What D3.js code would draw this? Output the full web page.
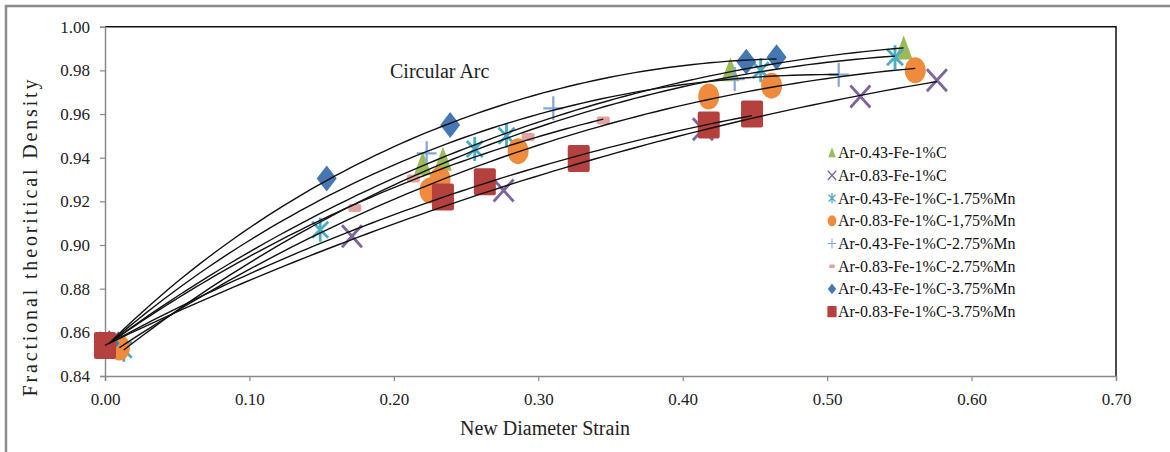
<!DOCTYPE html>
<html>
<head>
<meta charset="utf-8">
<script src="https://cdn.jsdelivr.net/npm/d3@7"></script>
<style>
  body { margin: 0; background: #fff; }
  svg { display: block; font-family: "Liberation Serif", "Times New Roman", serif; }
</style>
</head>
<body>
<div id="chart"></div>
<script>
// data (x = new diameter strain, y = fractional theoretical density)
const seriesNames = [
  "Ar-0.43-Fe-1%C",
  "Ar-0.83-Fe-1%C",
  "Ar-0.43-Fe-1%C-1.75%Mn",
  "Ar-0.83-Fe-1%C-1,75%Mn",
  "Ar-0.43-Fe-1%C-2.75%Mn",
  "Ar-0.83-Fe-1%C-2.75%Mn",
  "Ar-0.43-Fe-1%C-3.75%Mn",
  "Ar-0.83-Fe-1%C-3.75%Mn"
];
const strainA043 = [0.003, 0.220, 0.234, 0.433, 0.553];
const densA043   = [0.855, 0.937, 0.939, 0.980, 0.990];
const strainA083 = [0.003, 0.171, 0.276, 0.414, 0.523, 0.576];
const densA083   = [0.855, 0.904, 0.925, 0.953, 0.968, 0.9755];
const strainA043Mn175 = [0.013, 0.149, 0.256, 0.278, 0.454, 0.547];
const densA043Mn175   = [0.852, 0.907, 0.944, 0.950, 0.980, 0.986];
const strainA083Mn175 = [0.010, 0.225, 0.232, 0.286, 0.418, 0.4615, 0.561];
const densA083Mn175   = [0.853, 0.925, 0.930, 0.943, 0.968, 0.973, 0.980];
const strainA043Mn275 = [0.003, 0.2227, 0.3104, 0.436, 0.508];
const densA043Mn275   = [0.855, 0.942, 0.9626, 0.976, 0.978];
const strainA083Mn275 = [0.003, 0.173, 0.2135, 0.293, 0.345];
const densA083Mn275   = [0.855, 0.917, 0.9305, 0.9495, 0.957];
const strainA043Mn375 = [0.003, 0.1535, 0.239, 0.444, 0.465];
const densA043Mn375   = [0.855, 0.9305, 0.955, 0.984, 0.986];
const strainA083Mn375 = [0.000, 0.234, 0.263, 0.328, 0.418, 0.448];
const densA083Mn375   = [0.854, 0.922, 0.929, 0.9396, 0.955, 0.960];

const xTicks = [0.00, 0.10, 0.20, 0.30, 0.40, 0.50, 0.60, 0.70];
const yTicks = [0.84, 0.86, 0.88, 0.90, 0.92, 0.94, 0.96, 0.98, 1.00];

const series = [
  {name: seriesNames[0], xs: strainA043, ys: densA043, shape: "triangle", color: "#9BBB59"},
  {name: seriesNames[1], xs: strainA083, ys: densA083, shape: "x", color: "#8064A2"},
  {name: seriesNames[2], xs: strainA043Mn175, ys: densA043Mn175, shape: "asterisk", color: "#4BACC6"},
  {name: seriesNames[3], xs: strainA083Mn175, ys: densA083Mn175, shape: "circle", color: "#F08A3C"},
  {name: seriesNames[4], xs: strainA043Mn275, ys: densA043Mn275, shape: "plus", color: "#84A8DA"},
  {name: seriesNames[5], xs: strainA083Mn275, ys: densA083Mn275, shape: "dash", color: "#E3A3A1"},
  {name: seriesNames[6], xs: strainA043Mn375, ys: densA043Mn375, shape: "diamond", color: "#4677B5"},
  {name: seriesNames[7], xs: strainA083Mn375, ys: densA083Mn375, shape: "square", color: "#B5413F"}
];

const width = 1170, height = 452;
const x = d3.scaleLinear().domain([0, 0.7]).range([105, 1116]);
const y = d3.scaleLinear().domain([0.84, 1.00]).range([376, 26.7]);

const svg = d3.select("#chart").append("svg")
  .attr("width", width).attr("height", height);

// outer frame (top + left edges visible)
svg.append("path")
  .attr("d", "M6,452 V6 H1170")
  .attr("fill", "none").attr("stroke", "#8c8c8c").attr("stroke-width", 2.5);

// plot frame: black top/right, grey axes
svg.append("path")
  .attr("d", `M${x(0)},${y(1)} H${x(0.7)} V${y(0.84)}`)
  .attr("fill", "none").attr("stroke", "#111").attr("stroke-width", 1.5);

const yAxis = svg.append("g")
  .attr("transform", `translate(${x(0)},0)`)
  .call(d3.axisLeft(y).tickValues(yTicks).tickFormat(d3.format(".2f")).tickSize(5).tickPadding(10));
const xAxis = svg.append("g")
  .attr("transform", `translate(0,${y(0.84)})`)
  .call(d3.axisBottom(x).tickValues(xTicks).tickFormat(d3.format(".2f")).tickSize(5).tickPadding(12));

[xAxis, yAxis].forEach(g => {
  g.select(".domain").attr("stroke", "#8a8a8a").attr("stroke-width", 1.5);
  g.selectAll(".tick line").attr("stroke", "#8a8a8a").attr("stroke-width", 1.2);
  g.selectAll(".tick text")
    .attr("fill", "#222")
    .style("font-family", "'Liberation Serif', serif")
    .style("font-size", "17px");
});

// axis titles
svg.append("text")
  .attr("transform", "translate(37,238) rotate(-90)")
  .attr("text-anchor", "middle")
  .attr("textLength", 317).attr("lengthAdjust", "spacing")
  .attr("fill", "#222").style("font-size", "20px")
  .text("Fractional theoritical Density");
svg.append("text")
  .attr("x", 545).attr("y", 435)
  .attr("text-anchor", "middle")
  .attr("fill", "#222").style("font-size", "20px")
  .text("New Diameter Strain");

svg.append("text")
  .attr("x", 390).attr("y", 78)
  .attr("fill", "#222").style("font-size", "20px")
  .text("Circular Arc");

// marker painter; k scales the shape, sw is the stroke width for line markers
function marker(g, shape, color, k, sw) {
  if (shape === "triangle") {
    g.append("path").attr("d", `M0,${-13*k} L${9*k},${11*k} L${-9*k},${11*k} Z`).attr("fill", color);
  } else if (shape === "x") {
    g.append("path").attr("d", `M${-10*k},${-11*k} L${10*k},${11*k} M${-10*k},${11*k} L${10*k},${-11*k}`)
      .attr("stroke", color).attr("stroke-width", sw);
  } else if (shape === "asterisk") {
    g.append("path").attr("d", `M0,${-12*k} V${12*k} M${-8*k},${-8*k} L${8*k},${8*k} M${-8*k},${8*k} L${8*k},${-8*k}`)
      .attr("stroke", color).attr("stroke-width", sw);
  } else if (shape === "circle") {
    g.append("ellipse").attr("rx", 10.5*k).attr("ry", 13*k).attr("fill", color);
  } else if (shape === "plus") {
    g.append("path").attr("d", `M${-10*k},0 H${10*k} M0,${-12*k} V${12*k}`)
      .attr("stroke", color).attr("stroke-width", sw*0.8);
  } else if (shape === "dash") {
    g.append("rect").attr("x", -6.5*k).attr("y", -4*k).attr("width", 13*k).attr("height", 8*k)
      .attr("rx", 2*k).attr("fill", color);
  } else if (shape === "diamond") {
    g.append("path").attr("d", `M0,${-13*k} L${10*k},0 L0,${13*k} L${-10*k},0 Z`).attr("fill", color);
  } else if (shape === "square") {
    g.append("rect").attr("x", -11*k).attr("y", -13.5*k).attr("width", 22*k).attr("height", 27*k)
      .attr("rx", 2*k).attr("fill", color);
  }
}

// markers
const markG = svg.append("g");
series.forEach(s => {
  s.xs.forEach((v, i) => {
    const g = markG.append("g").attr("transform", `translate(${x(v)},${y(s.ys[i])})`);
    marker(g, s.shape, s.color, 1, 2.8);
  });
});

// circular arc fit (weighted Kasa fit in screen space, first point held strongly)
function fitArc(px, py) {
  const mx = d3.mean(px), my = d3.mean(py);
  const S = [[0,0,0],[0,0,0],[0,0,0]], R = [0,0,0];
  px.forEach((xv, i) => {
    const u = xv - mx, v = py[i] - my, w = i === 0 ? 25 : 1;
    const a = [u, v, 1], b = -(u*u + v*v);
    for (let j = 0; j < 3; j++) {
      R[j] += w * a[j] * b;
      for (let k = 0; k < 3; k++) S[j][k] += w * a[j] * a[k];
    }
  });
  // gaussian elimination
  const M = S.map((row, j) => row.concat(R[j]));
  for (let c = 0; c < 3; c++) {
    let p = c;
    for (let r = c + 1; r < 3; r++) if (Math.abs(M[r][c]) > Math.abs(M[p][c])) p = r;
    [M[c], M[p]] = [M[p], M[c]];
    for (let r = 0; r < 3; r++) {
      if (r === c) continue;
      const f = M[r][c] / M[c][c];
      for (let k = c; k < 4; k++) M[r][k] -= f * M[c][k];
    }
  }
  const D = M[0][3] / M[0][0], E = M[1][3] / M[1][1], F = M[2][3] / M[2][2];
  const cx = -D / 2, cy = -E / 2;
  const r = Math.sqrt(cx*cx + cy*cy - F);
  return {cx: cx + mx, cy: cy + my, r};
}

const line = d3.line();
const curveG = svg.append("g");
series.forEach(s => {
  const px = s.xs.map(v => x(v)), py = s.ys.map(v => y(v));
  const c = fitArc(px, py);
  const sign = py[py.length - 1] < c.cy ? -1 : 1;
  const x0 = px[0], x1 = px[px.length - 1];
  const pts = d3.range(81).map(t => {
    const xv = x0 + (x1 - x0) * t / 80;
    const d = Math.max(0, c.r*c.r - (xv - c.cx) * (xv - c.cx));
    return [xv, c.cy + sign * Math.sqrt(d)];
  });
  curveG.append("path")
    .attr("d", line(pts))
    .attr("fill", "none").attr("stroke", "#111").attr("stroke-width", 1.4);
});

// legend
const legend = svg.append("g");
series.forEach((s, i) => {
  const cy = 152.7 + i * 22.7;
  const g = legend.append("g").attr("transform", `translate(832,${cy})`);
  marker(g, s.shape, s.color, 0.42, 1.3);
  legend.append("text")
    .attr("x", 838).attr("y", cy + 5.5)
    .attr("fill", "#111").style("font-size", "16px")
    .text(s.name);
});
</script>
</body>
</html>
